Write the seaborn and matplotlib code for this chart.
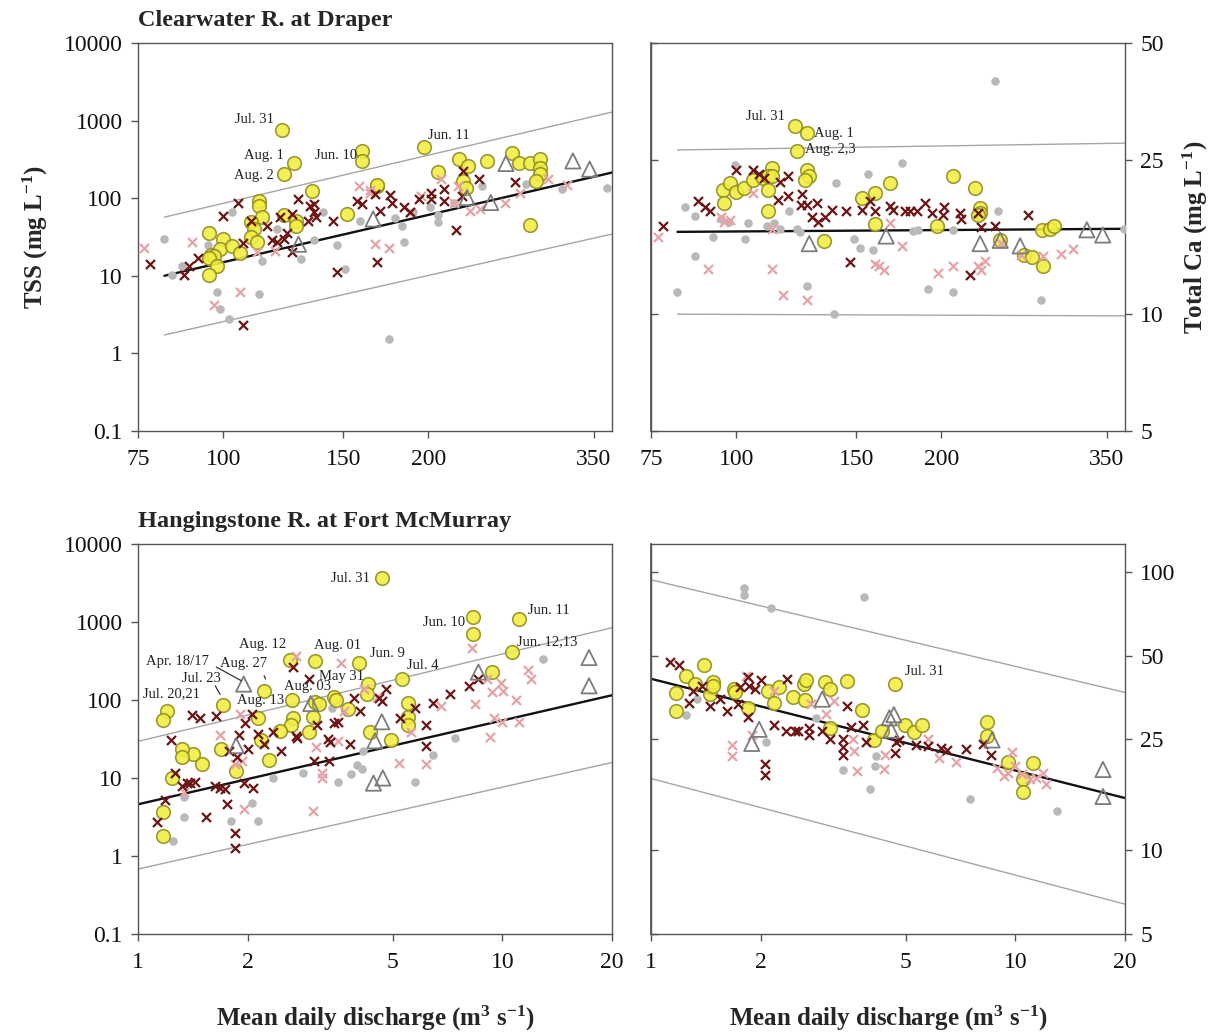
import matplotlib
matplotlib.use("Agg")
import matplotlib.pyplot as plt
import seaborn as sns
import numpy as np
import pandas as pd
from matplotlib.ticker import FixedLocator, FixedFormatter, NullLocator

# ---------------- DATA ----------------
# Top-left: Clearwater TSS
tl_circ_x = [122,127,123,160,160,197,168,168,135,113,113,114,110,111,110,112,123,128,128,152,95.5,100,99,103,106,96,97,95.5,98,95.5,222,229,225,227,207,244,265,272,282,292,292,292,288,282]
tl_circ_y = [759,288,204,406,302,457,144,150,124,93,80,57,48.8,40,31.6,27,60.5,51,44,62,36,29.8,22,24,19.7,18.8,18,17.2,13.5,10.2,318,260,167,137,218,302,387,288,288,318,248,204,167,45]
tl_dx_x = [78,87.5,89,92,100,105,107,110,107,116,118,120,121,123,124,126,126,129,133,134,136,136,137,145,147,157,160,168,167,170,176,177,184,188,194,202,202,211,211,220,224,225,237,268]
tl_dx_y = [14.2,10.1,13.5,17,59.5,86.5,26.5,51,2.3,44,28.5,27,57,30,36,20,62,97,51,80,84,66,57,51,11.1,92,84,15,112,69,109,86,76,66,98,118,98,130,92,39,106,225,176,161]
tl_px_x = [76.5,90,97,106,112,119,158,164,164,167,175,188,195,209,218,221,230,238,259,273,300,320]
tl_px_y = [22.6,27,4.15,6.1,20,21,145,116,126,25.7,22.6,66,108,176,88,145,69,73,88,118,176,150]
tl_gd_x = [82,84,87,95,98,99,102,103,113,114,120,130,136,140,147,151,159,175,179,183,184,190,201,207,207,240,278,314,366,218]
tl_gd_y = [30,10.1,13.5,24.6,6.1,3.7,2.8,66,5.9,15.7,40,16.6,28.5,66,25,12.2,51,1.55,55,44,27,66,76,60,49,145,152,130,137,88]
tl_tr_x = [129,166,228,247,260,326,345]
tl_tr_y = [25.5,54,102,88,280,302,237]
tl_line_x = [82, 372]
tl_fit_y = [10, 214]
tl_up_y = [57, 1288]
tl_lo_y = [1.73, 34.5]
tl_lab_txt = ["Jul. 31", "Aug. 1", "Aug. 2", "Jun. 10", "Jun. 11"]
tl_lab_x = [118.6, 122.6, 118.6, 157, 200]
tl_lab_y = [1035, 357, 194, 357, 645]
tl_lab_ha = ["right", "right", "right", "right", "left"]

# Top-right: Clearwater Ca
tr_circ_x = [122,127,123,113,127,128,126,95.5,98,100,102.7,106,109.6,111.5,111.5,113,96,111.5,134.5,153,160,168,160,197,208,224,228,228,226,244,264,272,281,289,293,282]
tr_circ_y = [30.5,29.3,26.4,23.8,23.5,22.7,22.2,20.9,21.8,20.7,21.2,22.2,22.5,20.9,22.7,22.7,19.3,18.5,15.4,19.9,20.5,21.8,17.1,16.9,22.7,21.2,18.8,18.2,18.0,15.5,14.2,14.0,16.5,16.6,16.9,13.3]
tr_dx_x = [78,88,90,91.5,100,106,108,110,116,119,115,119,125,124.5,127,129,132,135,138,131.5,145,153,157,160,168,170,177,180,184,189,194,202,201,213,214,226,229,240,268,147,220]
tr_dx_y = [16.9,19.6,18.9,18.5,23.5,23.6,23.0,22.5,21.9,22.7,19.7,20.2,20.4,19.1,19.1,17.8,17.3,17.8,18.6,19.4,18.5,18.6,19.6,18.5,19.0,18.6,18.5,18.5,18.5,19.4,18.2,18.9,18.0,18.2,17.6,18.2,16.8,16.9,18.0,13.6,12.6]
tr_px_x = [76.7,95,96,98,91,113,113,106,117,127,160,162,165,168,175,198,208,226,232,229,245,262,282,300,312]
tr_px_y = [15.8,17.8,17.3,17.5,13.1,16.6,13.1,20.5,11.2,10.9,13.5,13.3,13.0,17.2,15.0,12.8,13.3,13.3,13.7,13.0,15.3,14.2,14.1,14.3,14.7]
tr_gd_x = [82,84,87,87,92.5,95,97.5,99.5,103,104,111,113.6,116,119.5,123,124,127,139,140,149,152,156,159,175,182,185,191,208,208,240,242,280,371]
tr_gd_y = [11.4,18.9,17.9,14.1,15.8,17.6,17.3,24.2,15.6,17.2,16.9,17.2,16.6,18.4,16.6,16.3,11.8,10.0,21.8,15.6,14.8,23.0,14.6,24.6,16.4,16.5,11.6,16.5,11.4,39.8,18.4,10.9,16.6]
tr_tr_x = [128,166,228,244,261,327,345]
tr_tr_y = [15.2,15.9,15.2,15.5,15.0,16.5,16.0]
tr_line_x = [82, 372]
tr_fit_y = [16.3, 16.6]
tr_up_y = [26.5, 27.6]
tr_lo_y = [10.0, 9.9]
tr_lab_txt = ["Jul. 31", "Aug. 1", "Aug. 2,3"]
tr_lab_x = [118, 130, 126]
tr_lab_y = [32.3, 29.3, 26.6]
tr_lab_ha = ["right", "left", "left"]

# Bottom-left: Hangingstone TSS
bl_circ_x = [4.67,8.33,8.33,11.1,10.6,9.39,5.29,5.5,5.5,5.5,4.96,4.33,4.28,4.25,4.05,3.78,3.46,3.5,3.07,3.02,3.07,3.13,2.94,2.65,2.66,2.63,2.61,2.45,2.29,2.22,2.14,2.17,1.71,1.69,1.86,1.5,1.42,1.32,1.32,1.2,1.17,1.24,1.17,1.17]
bl_circ_y = [3650,1168,706,1088,418,228,187,92,61,48,31,39,160,118.6,299,77.6,109,101,315,61,93,88,39,100,59,48,324,40,17,131,58.5,30.4,85.7,23.6,12.3,15,20.3,23.6,18.8,71.6,55.6,10,3.66,1.8]
bl_dx_x = [1.13,1.19,1.23,1.26,1.32,1.36,1.41,1.48,1.39,1.43,1.54,1.63,1.64,1.68,1.73,1.75,1.78,1.85,1.85,1.87,1.89,1.96,1.97,2.0,2.07,2.05,2.14,2.22,2.35,2.47,2.67,2.71,2.74,2.95,3.05,3.1,3.33,3.35,3.36,3.46,3.54,3.82,3.92,4.07,4.6,4.67,4.78,5.24,5.77,6.18,6.18,6.45,7.2,8.08,8.6]
bl_dx_y = [2.73,5.2,30.4,11.7,7.8,8.6,64.7,58.5,8.6,9.0,3.2,7.8,62,7.4,7.2,4.6,22.4,2.0,1.27,18.8,35.3,8.7,50,23.6,7.4,66,37,27,39,22.4,265,34.6,32.5,187,16.6,48,31.6,16.6,29,50,52.6,27,107,72,107,97,140,58.5,79,48,26,92,118,152,187]
bl_px_x = [1.34,1.68,1.85,1.93,1.9,1.95,2.71,3.02,3.09,3.2,3.2,3.6,3.68,3.54,4.17,4.54,5.22,5.62,6.18,6.78,8.27,8.39,9.1,9.23,9.39,9.5,9.93,10.0,10.05,10.9,11.8,12.0,11.1]
bl_px_y = [6.7,35.3,15,16.6,66,4.05,366,3.8,25,11.7,10,294,72,30,140,109,15.7,39,15,83,462,89,187,33.5,125,58.5,167,52.6,131,100,244,187,52.6]
bl_gd_x = [1.25,1.34,1.34,1.8,2.05,2.14,2.35,2.83,3.4,3.54,3.85,3.99,4.12,4.15,5.77,6.47,7.43,12.9]
bl_gd_y = [1.55,5.75,3.2,2.8,4.85,2.8,10,11.7,78,8.9,11.2,14.5,12.9,22.4,8.9,19.7,33,331]
bl_tr_x = [1.95,1.86,2.98,4.47,4.67,4.43,4.7,8.6,17.3,17.3]
bl_tr_y = [160,26,90,30,52.6,8.6,10,228,350,152]
bl_line_x = [1, 20]
bl_fit_y = [4.6, 115]
bl_up_y = [29.5, 845]
bl_lo_y = [0.68, 15.8]
bl_lab_txt = ["Jul. 31", "Jun. 10", "Jun. 11", "Jun. 12,13", "Jul. 4", "Jun. 9", "Aug. 01", "May 31",
              "Aug. 03", "Aug. 12", "Aug. 27", "Apr. 18/17", "Jul. 23", "Jul. 20,21", "Aug. 13"]
bl_lab_x = [4.33, 7.93, 11.8, 11.0, 5.49, 4.33, 3.05, 3.13, 2.52, 1.89, 1.68, 1.05, 1.32, 1.035, 1.87]
bl_lab_y = [3570, 984, 1400, 565, 279, 389, 496, 200, 148, 510, 294, 309, 187, 121, 99]
bl_lab_ha = ["right", "right"] + ["left"] * 13
bl_lead_x = [[1.64, 1.92], [1.63, 1.68], [2.22, 2.24]]
bl_lead_y = [[265, 177], [152, 118], [205, 186]]

# Bottom-right: Hangingstone Ca
br_circ_x = [1.17,1.17,1.25,1.32,1.40,1.45,1.48,1.48,1.69,1.70,1.85,2.1,2.17,2.24,2.45,2.63,2.67,2.64,3.0,3.1,3.1,3.46,3.79,4.09,4.3,4.67,4.97,5.28,5.54,8.36,8.36,9.53,10.5,10.5,11.2]
br_circ_y = [36.6,31.6,42.2,39.6,46.2,36.4,40.2,39,38.1,37,32.5,37.4,33.9,38.5,35.5,39.6,41,34.8,40.2,38.0,27.6,40.6,31.8,24.9,26.8,39.6,28.2,26.7,28.1,29.0,25.8,20.8,18.0,16.2,20.5]
br_dx_x = [1.13,1.19,1.27,1.3,1.38,1.45,1.55,1.62,1.73,1.76,1.85,1.86,1.93,2.0,1.85,2.05,2.05,2.18,2.36,2.35,2.49,2.53,2.71,2.71,2.95,3.1,3.37,3.36,3.36,3.46,3.54,3.82,3.9,4.67,4.7,4.79,5.34,5.75,6.25,6.5,7.3,8.15,8.57]
br_dx_y = [47.6,46.3,33.9,37.4,38.8,33,34.9,31.6,33.5,38.5,41.9,39.0,38.0,40.8,30,20.4,18.6,28.2,41.3,26.8,26.8,26.8,27.6,26.0,26.8,25.2,25.2,23.5,22.0,33,27.8,28.2,24.4,22.3,24.5,24.8,23.8,23.7,23.3,23.0,23.2,24,22]
br_px_x = [1.67,1.67,1.82,1.89,2.18,2.74,3.02,3.17,3.59,3.67,3.6,4.38,4.35,5.75,6.18,6.89,8.9,9.53,9.8,10,10.4,11.0,11.4,11.9,12.1,9.33]
br_px_y = [23.8,21.8,42.1,25.9,37.4,33.6,30.8,34.4,25.2,19.3,22.8,22.0,19.6,25.2,21.5,20.8,19.8,19.0,22.5,20,18.8,18,18.2,19.0,17.3,18.5]
br_gd_x = [1.25,1.34,1.8,1.8,2.14,2.07,3.37,3.85,4.0,4.14,4.12,7.5,13.0,2.83]
br_gd_y = [30.6,34.9,87.8,82.5,74.1,24.4,19.5,81.4,16.6,21.8,20.0,15.3,13.8,29.9]
br_tr_x = [1.89,1.98,2.95,4.51,4.64,4.56,8.63,17.4,17.4]
br_tr_y = [24.2,27.2,34.9,29.9,30.7,27.0,24.9,19.5,15.6]
br_line_x = [1, 20]
br_fit_y = [41.3, 15.4]
br_up_y = [93.7, 36.9]
br_lo_y = [18.1, 6.4]
br_lab_txt = ["Jul. 31"]
br_lab_x = [4.99]
br_lab_y = [44.0]
br_lab_ha = ["left"]

# Axis ticks / labels
top_xticks = [75, 100, 150, 200, 350]
top_xlabels = ["75", "100", "150", "200", "350"]
bot_xticks = [1, 2, 5, 10, 20]
bot_xlabels = ["1", "2", "5", "10", "20"]
tss_yticks = [0.1, 1, 10, 100, 1000, 10000]
tss_ylabels = ["0.1", "1", "10", "100", "1000", "10000"]
ca_top_yticks = [5, 10, 25, 50]
ca_bot_yticks = [5, 10, 25, 50, 100]

# ---------------- STYLE ----------------
sns.set_theme(style="white")
plt.rcParams["font.family"] = ["Liberation Serif", "DejaVu Serif"]
plt.rcParams["mathtext.fontset"] = "custom"
plt.rcParams["mathtext.rm"] = "Liberation Serif"
plt.rcParams["mathtext.it"] = "Liberation Serif:italic"
plt.rcParams["mathtext.bf"] = "Liberation Serif:bold"

C_YEL, C_YEL_E = "#f2ee40", "#8f8c25"
C_DX = "#6a1414"
C_PX = "#e6a3a6"
C_GD = "#b9b9b9"
C_TR = "#7c7c7c"
SPINE = "#555555"

fig = plt.figure(figsize=(12.21, 10.34), dpi=100)
ax_tl = fig.add_axes([0.1130, 0.5832, 0.3882, 0.3752])
ax_tr = fig.add_axes([0.5332, 0.5832, 0.3882, 0.3752])
ax_bl = fig.add_axes([0.1130, 0.0967, 0.3882, 0.3772])
ax_br = fig.add_axes([0.5332, 0.0967, 0.3882, 0.3772])


def panel(ax, line_x, fit_y, up_y, lo_y, gx, gy, cx, cy, px, py, dx, dy, tx, ty,
          lab_txt, lab_x, lab_y, lab_ha):
    ax.set_xscale("log")
    ax.set_yscale("log")
    sns.lineplot(x=line_x, y=up_y, ax=ax, color="#a5a5a5", lw=1.0, estimator=None, sort=False, zorder=1)
    sns.lineplot(x=line_x, y=lo_y, ax=ax, color="#a5a5a5", lw=1.0, estimator=None, sort=False, zorder=1)
    sns.lineplot(x=line_x, y=fit_y, ax=ax, color="#111111", lw=1.7, estimator=None, sort=False, zorder=2)
    sns.scatterplot(x=gx, y=gy, ax=ax, marker="o", s=38, color=C_GD, edgecolor=C_GD, linewidth=0, zorder=3)
    sns.scatterplot(x=cx, y=cy, ax=ax, marker="o", s=96, color=C_YEL, edgecolor=C_YEL_E,
                    linewidth=1.2, alpha=0.88, zorder=4)
    sns.scatterplot(x=px, y=py, ax=ax, marker="x", s=42, color=C_PX, linewidth=1.6, zorder=5)
    sns.scatterplot(x=dx, y=dy, ax=ax, marker="x", s=42, color=C_DX, linewidth=1.6, zorder=6)
    sns.scatterplot(x=tx, y=ty, ax=ax, marker="^", s=120, color=C_TR, facecolor="none",
                    edgecolor=C_TR, linewidth=1.3, zorder=6)
    for t, xx, yy, ha in zip(lab_txt, lab_x, lab_y, lab_ha):
        ax.text(xx, yy, t, ha=ha, va="center", fontsize=10.5, color="#222222", zorder=7)


def style(ax, xlim, xt, xl, ylim, yt, yl, right=False):
    ax.set_xlim(*xlim)
    ax.set_ylim(*ylim)
    ax.xaxis.set_major_locator(FixedLocator(xt))
    ax.xaxis.set_major_formatter(FixedFormatter(xl))
    ax.xaxis.set_minor_locator(NullLocator())
    ax.yaxis.set_major_locator(FixedLocator(yt))
    ax.yaxis.set_major_formatter(FixedFormatter(yl))
    ax.yaxis.set_minor_locator(NullLocator())
    for sp in ax.spines.values():
        sp.set_color(SPINE)
        sp.set_linewidth(1.0)
    ax.tick_params(axis="both", which="major", direction="out", length=5, width=1.0,
                   color=SPINE, labelsize=17, pad=6, labelcolor="#111111")
    ax.tick_params(axis="x", bottom=True, pad=8)
    if right:
        ax.yaxis.tick_right()
        ax.tick_params(axis="y", left=False, right=True, labelleft=False, labelright=True)
        sec = ax.secondary_yaxis("left")
        sec.set_yticks(yt)
        sec.yaxis.set_minor_locator(NullLocator())
        sec.tick_params(axis="y", direction="in", length=5, width=1.0, color=SPINE, labelleft=False)
        sec.spines["left"].set_color(SPINE)
    else:
        ax.tick_params(axis="y", left=True, right=False)
    ax.set_xlabel("")
    ax.set_ylabel("")
    ax.grid(False)


panel(ax_tl, tl_line_x, tl_fit_y, tl_up_y, tl_lo_y, tl_gd_x, tl_gd_y, tl_circ_x, tl_circ_y,
      tl_px_x, tl_px_y, tl_dx_x, tl_dx_y, tl_tr_x, tl_tr_y, tl_lab_txt, tl_lab_x, tl_lab_y, tl_lab_ha)
panel(ax_tr, tr_line_x, tr_fit_y, tr_up_y, tr_lo_y, tr_gd_x, tr_gd_y, tr_circ_x, tr_circ_y,
      tr_px_x, tr_px_y, tr_dx_x, tr_dx_y, tr_tr_x, tr_tr_y, tr_lab_txt, tr_lab_x, tr_lab_y, tr_lab_ha)
panel(ax_bl, bl_line_x, bl_fit_y, bl_up_y, bl_lo_y, bl_gd_x, bl_gd_y, bl_circ_x, bl_circ_y,
      bl_px_x, bl_px_y, bl_dx_x, bl_dx_y, bl_tr_x, bl_tr_y, bl_lab_txt, bl_lab_x, bl_lab_y, bl_lab_ha)
panel(ax_br, br_line_x, br_fit_y, br_up_y, br_lo_y, br_gd_x, br_gd_y, br_circ_x, br_circ_y,
      br_px_x, br_px_y, br_dx_x, br_dx_y, br_tr_x, br_tr_y, br_lab_txt, br_lab_x, br_lab_y, br_lab_ha)

for lx, ly in zip(bl_lead_x, bl_lead_y):
    ax_bl.plot(lx, ly, color="#333333", lw=0.9, zorder=7)

style(ax_tl, (75, 372), top_xticks, top_xlabels, (0.1, 10000), tss_yticks, tss_ylabels)
style(ax_tr, (75, 372), top_xticks, top_xlabels, (5, 50), ca_top_yticks, [str(v) for v in ca_top_yticks], right=True)
style(ax_bl, (1, 20), bot_xticks, bot_xlabels, (0.1, 10000), tss_yticks, tss_ylabels)
style(ax_br, (1, 20), bot_xticks, bot_xlabels, (5, 126), ca_bot_yticks, [str(v) for v in ca_bot_yticks], right=True)

ax_tl.set_title("Clearwater R. at Draper", loc="left", fontsize=17.5, fontweight="bold", pad=12, x=0.0)
ax_bl.set_title("Hangingstone R. at Fort McMurray", loc="left", fontsize=17.5, fontweight="bold", pad=12, x=0.0)

ax_tl.set_ylabel(r"TSS (mg L$^{\mathbf{-1}}$)", fontsize=18, fontweight="bold", labelpad=10)
ax_tr.yaxis.set_label_position("right")
ax_tr.set_ylabel(r"Total Ca (mg L$^{\mathbf{-1}}$)", fontsize=18, fontweight="bold", labelpad=12)
xlab = r"Mean daily discharge (m$^{\mathbf{3}}$ s$^{\mathbf{-1}}$)"
ax_bl.set_xlabel(xlab, fontsize=18, fontweight="bold", labelpad=22)
ax_br.set_xlabel(xlab, fontsize=18, fontweight="bold", labelpad=22)

fig.savefig("out.png", dpi=100, facecolor="white")
